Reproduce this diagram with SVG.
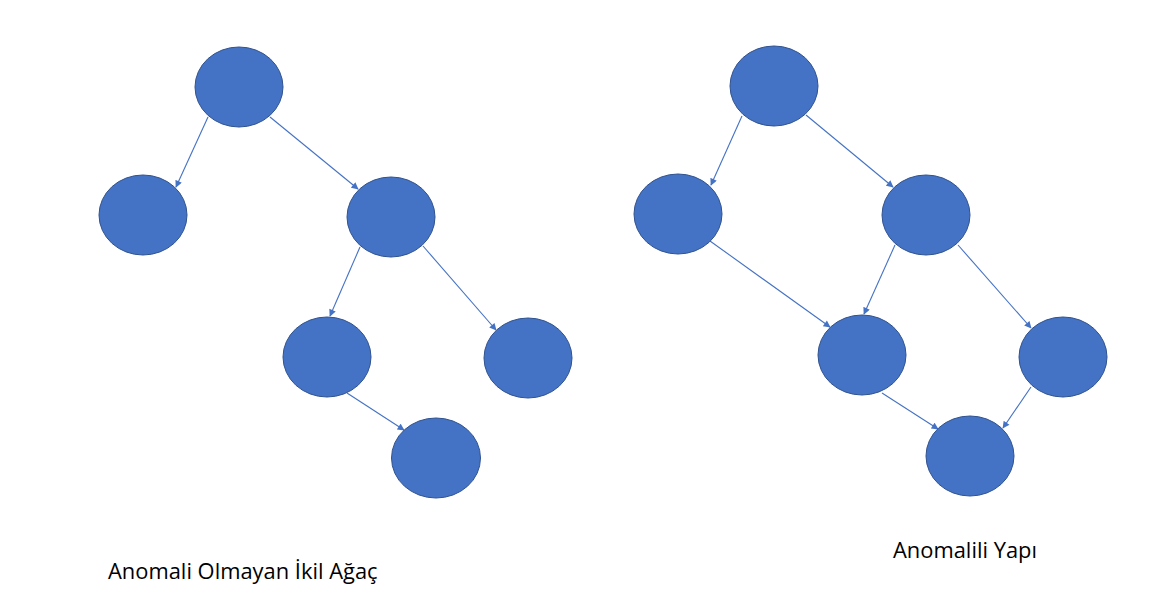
<svg xmlns="http://www.w3.org/2000/svg" width="1149" height="611" viewBox="0 0 1149 611">
<style>
.n{fill:#4472C4;stroke:#2F528F;stroke-width:1}
.e{stroke:#4472C4;stroke-width:1.1;fill:none;marker-end:url(#a)}
.t{font-family:"Open Sans","Liberation Sans",sans-serif;font-size:21.9px;fill:#000}
</style>
<defs>
<marker id="a" viewBox="0 0 10 10" refX="9" refY="5" markerWidth="8" markerHeight="7" markerUnits="userSpaceOnUse" orient="auto">
<path d="M0,0L10,5L0,10z" fill="#4472C4"/>
</marker>
</defs>
<rect width="1149" height="611" fill="#fff"/>
<g id="connectors">
<line class="e" x1="208" y1="117" x2="176" y2="187"/>
<line class="e" x1="270" y1="117" x2="358" y2="189"/>
<line class="e" x1="360" y1="247" x2="330" y2="316"/>
<line class="e" x1="423" y1="246" x2="496" y2="330"/>
<line class="e" x1="347" y1="393" x2="404" y2="430"/>
<line class="e" x1="742" y1="116" x2="711" y2="185"/>
<line class="e" x1="806" y1="115" x2="893" y2="187"/>
<line class="e" x1="710" y1="241" x2="830" y2="327"/>
<line class="e" x1="895" y1="245" x2="864" y2="314"/>
<line class="e" x1="958" y1="245" x2="1031" y2="328"/>
<line class="e" x1="882" y1="393" x2="938" y2="429"/>
<line class="e" x1="1031" y1="387" x2="1003" y2="428"/>
</g>
<g id="l-root"><ellipse class="n" cx="239" cy="87" rx="44" ry="40"/></g>
<g id="l-a"><ellipse class="n" cx="143" cy="215" rx="44" ry="40"/></g>
<g id="l-b"><ellipse class="n" cx="391" cy="217" rx="44" ry="40"/></g>
<g id="l-c"><ellipse class="n" cx="327" cy="357" rx="44" ry="40"/></g>
<g id="l-d"><ellipse class="n" cx="528" cy="358" rx="44" ry="40"/></g>
<g id="l-e"><ellipse class="n" cx="436" cy="458" rx="44.5" ry="40"/></g>
<g id="r-root"><ellipse class="n" cx="774" cy="86" rx="44" ry="40"/></g>
<g id="r-a"><ellipse class="n" cx="678" cy="214" rx="44" ry="40"/></g>
<g id="r-b"><ellipse class="n" cx="926" cy="215" rx="44" ry="40"/></g>
<g id="r-c"><ellipse class="n" cx="862" cy="355" rx="44" ry="40"/></g>
<g id="r-d"><ellipse class="n" cx="1063" cy="357" rx="44" ry="40"/></g>
<g id="r-e"><ellipse class="n" cx="970" cy="456" rx="44" ry="40"/></g>
<g id="labels">
<text class="t" x="108" y="579">Anomali Olmayan İkil Ağaç</text>
<text class="t" x="893" y="558">Anomalili Yapı</text>
</g>
</svg>
